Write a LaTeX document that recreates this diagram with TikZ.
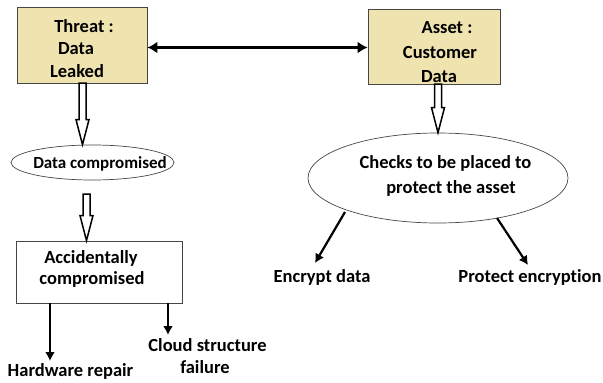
\documentclass[tikz,border=0pt]{standalone}
\usepackage{fontspec}
\setmainfont{Carlito}[Ligatures={NoCommon}]
\usetikzlibrary{arrows.meta,calc,shapes.geometric}
\definecolor{tan}{RGB}{239,227,176}
\definecolor{edge}{RGB}{70,70,70}
\tikzset{
  lbl/.style={font=\bfseries\fontsize{18.5}{22}\selectfont, inner sep=0pt, anchor=base, align=center},
  tanbox/.style={draw=edge, line width=0.9pt, fill=tan, rectangle, inner sep=0pt},
  whitebox/.style={draw=edge, line width=0.9pt, fill=white, rectangle, inner sep=0pt},
  oval/.style={draw=edge, line width=0.7pt, ellipse, inner sep=0pt},
  arr/.style={draw=black, line width=2.2pt, -{Latex[length=9pt,width=10pt]}},
  dblarr/.style={draw=black, line width=2.4pt, {Latex[length=10pt,width=12pt]}-{Latex[length=10pt,width=12pt]}},
  hollow/.style={draw=black, line width=1.5pt, fill=white, line join=miter,
    to path={let \p1=(\tikztostart), \p2=(\tikztotarget) in
      (\x1-3.5pt,\y1) -- (\x1-3.5pt,\y2+25pt) -- (\x1-6.5pt,\y2+25pt) -- (\x1,\y2)
      -- (\x1+6.5pt,\y2+25pt) -- (\x1+3.5pt,\y2+25pt) -- (\x1+3.5pt,\y1) -- cycle}}
}
\begin{document}
\begin{tikzpicture}[x=1pt,y=-1pt]
\useasboundingbox (0,0) rectangle (603,383);
% boxes
\node[tanbox, minimum width=130pt, minimum height=76pt] (threat) at (82,45) {};
\node[tanbox, minimum width=132pt, minimum height=75pt] (asset) at (434,46.5) {};
\node[oval, minimum width=163pt, minimum height=35pt] (e1) at (92.5,162.5) {};
\node[oval, minimum width=260pt, minimum height=90pt] (e2) at (438,178) {};
\node[whitebox, minimum width=166pt, minimum height=62pt] (acc) at (99,272) {};
% texts
\node[lbl] (t1) at (84,32) {Threat :};
\node[lbl] (t2) at (76,54) {Data};
\node[lbl] (t3) at (77,77) {Leaked};
\node[lbl] (a1) at (447,33) {Asset :};
\node[lbl] (a2) at (440,58) {Customer};
\node[lbl] (a3) at (439,82) {Data};
\node[lbl, font=\bfseries\fontsize{17}{20}\selectfont] (e1t) at (100,168) {Data compromised};
\node[lbl] (e2t1) at (445.5,168) {Checks to be placed to};
\node[lbl] (e2t2) at (451,193) {protect the asset};
\node[lbl] (acct1) at (91,263) {Accidentally};
\node[lbl] (acct2) at (92,284) {compromised};
\node[lbl] (enc) at (322,282) {Encrypt data};
\node[lbl] (penc) at (530,282) {Protect encryption};
\node[lbl] (hw) at (70.5,376) {Hardware repair};
\node[lbl] (cl1) at (207.5,351) {Cloud structure};
\node[lbl] (cl2) at (205,373) {failure};
% connectors
\draw[dblarr] (threat.east |- 0,47.5) -- (asset.west |- 0,47.5);
\coordinate (h1s) at (82.5,83);
\coordinate (h2s) at (86.5,194);
\coordinate (h3s) at (438,84);
\path[hollow] (h1s) to (h1s |- e1.north);
\path[hollow] (h2s) to (h2s |- acc.north);
\path[hollow] (h3s) to (h3s |- e2.north);
\coordinate (encs) at (345,212);
\coordinate (enct) at (315,263);
\coordinate (pencs) at (497,218);
\coordinate (venct) at (528,265);
\draw[arr] (encs) -- (enct);
\draw[arr] (pencs) -- (venct);
\coordinate (hwt) at (50,361);
\coordinate (clt) at (168,335);
\draw[arr] (acc.south -| hwt) -- (hwt);
\draw[arr] (acc.south -| clt) -- (clt);
\end{tikzpicture}
\end{document}
